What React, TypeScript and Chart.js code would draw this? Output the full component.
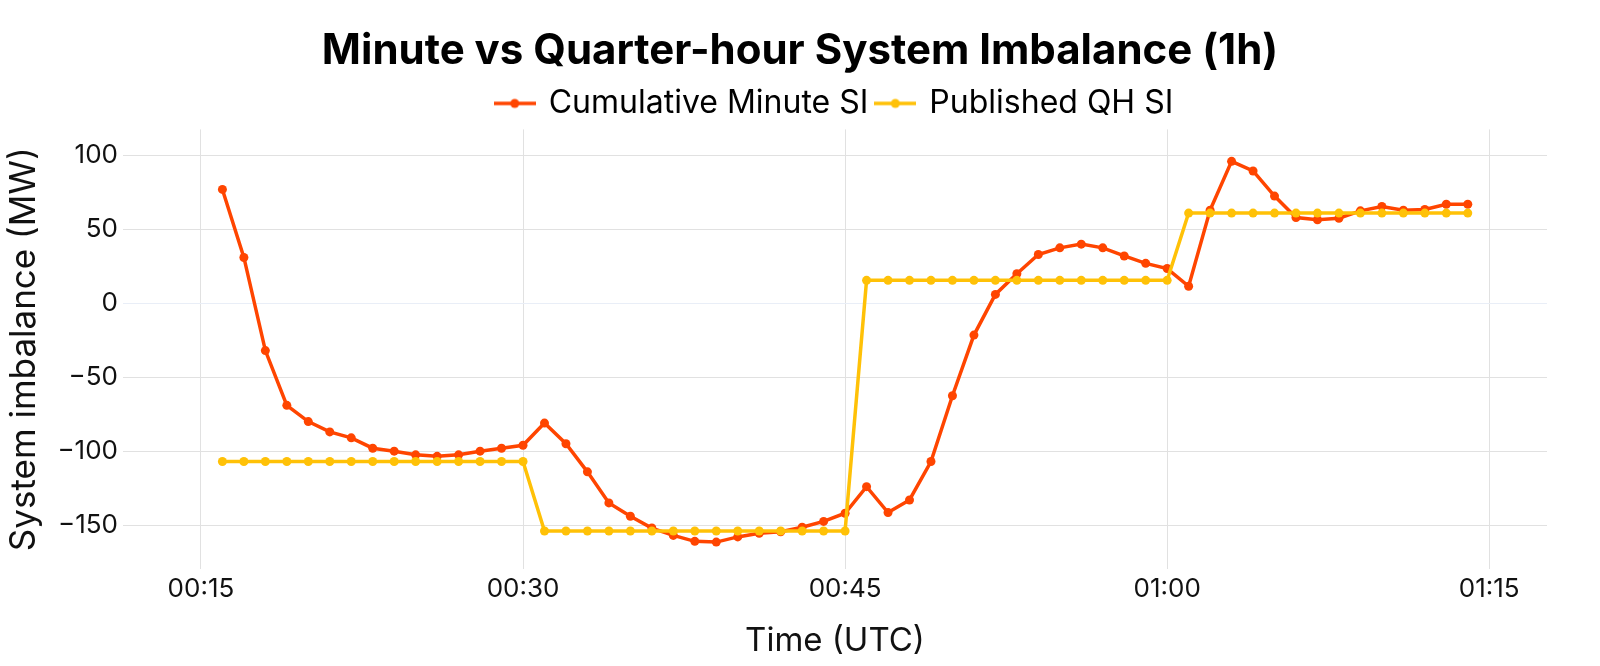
import { useEffect, useRef } from 'react';
import Chart from 'chart.js/auto';

const times = [
  '00:16', '00:17', '00:18', '00:19', '00:20', '00:21', '00:22', '00:23', '00:24', '00:25',
  '00:26', '00:27', '00:28', '00:29', '00:30', '00:31', '00:32', '00:33', '00:34', '00:35',
  '00:36', '00:37', '00:38', '00:39', '00:40', '00:41', '00:42', '00:43', '00:44', '00:45',
  '00:46', '00:47', '00:48', '00:49', '00:50', '00:51', '00:52', '00:53', '00:54', '00:55',
  '00:56', '00:57', '00:58', '00:59', '01:00', '01:01', '01:02', '01:03', '01:04', '01:05',
  '01:06', '01:07', '01:08', '01:09', '01:10', '01:11', '01:12', '01:13', '01:14',
];

const minuteSI = [
  77, 31, -32, -69, -80, -87, -91, -98, -100, -102.5,
  -103.5, -102.5, -100, -98, -96, -81, -95, -114, -135, -144,
  -152, -157, -161, -161.5, -158, -155.5, -154.5, -151.5, -147.5, -142,
  -124, -141.5, -133, -107, -62.5, -21.5, 6, 20, 33, 37.5,
  40, 37.5, 32, 27, 23.5, 11.5, 63, 96, 89.5, 72.5,
  58, 56.5, 57.5, 62.5, 65.5, 63, 63.5, 67, 67,
];

const publishedQH = [
  -107, -107, -107, -107, -107, -107, -107, -107, -107, -107,
  -107, -107, -107, -107, -107, -154, -154, -154, -154, -154,
  -154, -154, -154, -154, -154, -154, -154, -154, -154, -154,
  15.5, 15.5, 15.5, 15.5, 15.5, 15.5, 15.5, 15.5, 15.5, 15.5,
  15.5, 15.5, 15.5, 15.5, 15.5, 61, 61, 61, 61, 61,
  61, 61, 61, 61, 61, 61, 61, 61, 61,
];

const xTickLabels = ['00:15', '00:30', '00:45', '01:00', '01:15'];
const yTickValues = [-150, -100, -50, 0, 50, 100];

const RED = '#FF4500';
const YELLOW = '#FFC107';

const toMinutes = (t: string) => {
  const [h, m] = t.split(':').map(Number);
  return h * 60 + m;
};
const fmtTime = (v: number) =>
  `${String(Math.floor(v / 60)).padStart(2, '0')}:${String(Math.round(v % 60)).padStart(2, '0')}`;

// line + marker swatch for the legend
function swatch(color: string) {
  const c = document.createElement('canvas');
  c.width = 42;
  c.height = 12;
  const g = c.getContext('2d')!;
  g.strokeStyle = color;
  g.lineWidth = 3.5;
  g.beginPath();
  g.moveTo(0, 6);
  g.lineTo(42, 6);
  g.stroke();
  g.fillStyle = color;
  g.beginPath();
  g.arc(21, 6, 4.5, 0, Math.PI * 2);
  g.fill();
  return c;
}

export default function App() {
  const canvasRef = useRef<HTMLCanvasElement>(null);

  useEffect(() => {
    if (!canvasRef.current) return;
    Chart.defaults.font.family = 'Inter';
    Chart.defaults.color = '#111';

    const xs = times.map(toMinutes);
    const redSwatch = swatch(RED);
    const yellowSwatch = swatch(YELLOW);

    const chart = new Chart(canvasRef.current, {
      type: 'line',
      data: {
        datasets: [
          {
            label: 'Cumulative Minute SI',
            data: xs.map((x, i) => ({ x, y: minuteSI[i] })),
            borderColor: RED,
            backgroundColor: RED,
            pointBackgroundColor: RED,
            borderWidth: 3.5,
            pointRadius: 4.5,
            pointBorderWidth: 0,
            order: 1,
          },
          {
            label: 'Published QH SI',
            data: xs.map((x, i) => ({ x, y: publishedQH[i] })),
            borderColor: YELLOW,
            backgroundColor: YELLOW,
            pointBackgroundColor: YELLOW,
            borderWidth: 3.5,
            pointRadius: 4.5,
            pointBorderWidth: 0,
            order: 0,
          },
        ],
      },
      options: {
        animation: false,
        responsive: true,
        maintainAspectRatio: false,
        layout: { padding: 0 },
        plugins: {
          tooltip: { enabled: false },
          title: {
            display: true,
            text: 'Minute vs Quarter-hour System Imbalance (1h)',
            font: { size: 42, weight: 'bold' },
            color: '#000',
            padding: { top: 26, bottom: 2 },
          },
          legend: {
            display: true,
            fullSize: false,
            labels: {
              usePointStyle: true,
              pointStyleWidth: 36,
              padding: 9,
              font: { size: 32 },
              color: '#111',
              generateLabels: () => [
                { text: 'Cumulative Minute SI', pointStyle: redSwatch, fillStyle: RED, strokeStyle: RED, lineWidth: 0, hidden: false, datasetIndex: 0 },
                { text: 'Published QH SI', pointStyle: yellowSwatch, fillStyle: YELLOW, strokeStyle: YELLOW, lineWidth: 0, hidden: false, datasetIndex: 1 },
              ],
            },
          },
        },
        scales: {
          x: {
            type: 'linear',
            min: 11.37,
            max: 77.69,
            afterBuildTicks: (axis: any) => {
              axis.ticks = xTickLabels.map((t) => ({ value: toMinutes(t) }));
            },
            afterFit: (axis: any) => {
              axis.height = 97;
            },
            grid: { color: '#E1E1E1', lineWidth: 1, drawTicks: false },
            border: { display: false },
            ticks: {
              padding: 5,
              font: { size: 26 },
              color: '#111',
              maxRotation: 0,
              callback: (v: any) => fmtTime(Number(v)),
            },
            title: {
              display: true,
              text: 'Time (UTC)',
              font: { size: 33 },
              color: '#111',
              padding: { top: 0, bottom: 5 },
            },
          },
          y: {
            type: 'linear',
            min: -179.7,
            max: 117.6,
            afterBuildTicks: (axis: any) => {
              axis.ticks = yTickValues.map((v) => ({ value: v }));
            },
            afterFit: (axis: any) => {
              axis.width = 123;
            },
            grid: {
              color: (ctx: any) => (ctx.tick && ctx.tick.value === 0 ? '#E9EEF7' : '#E1E1E1'),
              lineWidth: 1,
              drawTicks: false,
            },
            border: { display: false },
            ticks: {
              padding: 5,
              font: { size: 26 },
              color: '#111',
              callback: (v: any) => String(v).replace('-', '\u2212'),
            },
            title: {
              display: true,
              text: 'System imbalance (MW)',
              font: { size: 35 },
              color: '#111',
              padding: { top: 3, bottom: 0 },
            },
          },
          // empty right margin so the title stays centred on the page
          yRight: {
            type: 'linear',
            position: 'right',
            display: true,
            grid: { display: false, drawTicks: false },
            border: { display: false },
            ticks: { display: false },
            afterFit: (axis: any) => {
              axis.width = 53;
            },
          },
        },
      },
    });

    return () => chart.destroy();
  }, []);

  return (
    <div style={{ position: 'absolute', left: 0, top: 0, width: 1600, height: 666, background: '#fff' }}>
      <canvas ref={canvasRef} />
    </div>
  );
}
